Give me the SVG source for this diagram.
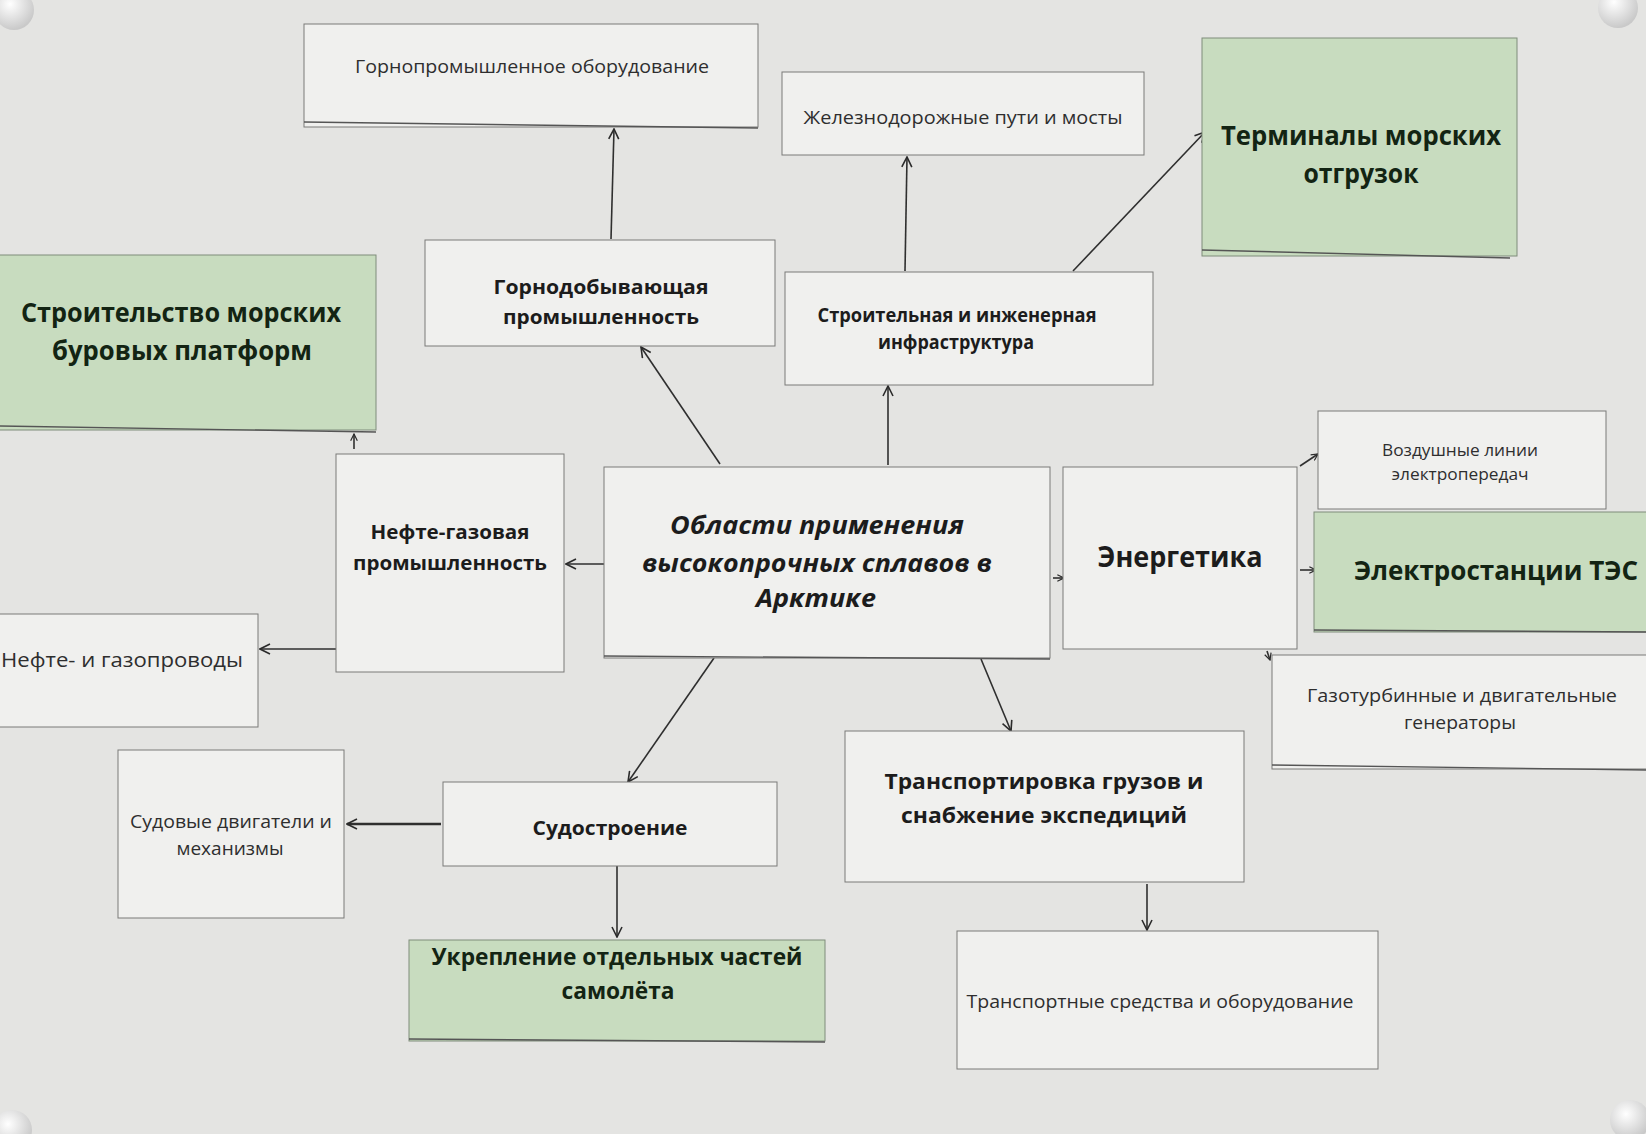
<svg xmlns="http://www.w3.org/2000/svg" width="1646" height="1134" viewBox="0 0 1646 1134">
<defs>
<marker id="arr" viewBox="0 0 12 12" refX="11" refY="6" markerWidth="12" markerHeight="12" markerUnits="userSpaceOnUse" orient="auto">
<path d="M1,1 L11,6 L1,11" fill="none" stroke="#2b2b2b" stroke-width="1.6"/>
</marker>
<marker id="arrS" viewBox="0 0 12 12" refX="11" refY="6" markerWidth="8" markerHeight="8" markerUnits="userSpaceOnUse" orient="auto">
<path d="M1,1 L11,6 L1,11" fill="none" stroke="#2b2b2b" stroke-width="1.8"/>
</marker>
<radialGradient id="pin" cx="40%" cy="35%" r="65%">
<stop offset="0" stop-color="#ffffff"/>
<stop offset="1" stop-color="#c9c9c9"/>
</radialGradient>
</defs>
<style>
.box{fill:#f0f0ee;stroke:#7a7a78;stroke-width:1}
.green{fill:#c8dcbf;stroke:#7f8c7b;stroke-width:1}
.t{font-family:"Open Sans","Noto Sans","Liberation Sans",sans-serif;fill:#2e2e2e;text-anchor:middle}
.b{font-family:"Open Sans","Noto Sans","Liberation Sans",sans-serif;font-weight:bold;fill:#1c1c1c;text-anchor:middle}
.bg{fill:#132413}
.c{fill:none;stroke:#2f2f2f;stroke-width:1.6}
.shadow{fill:none;stroke:#555;stroke-width:1.4}
</style>
<rect x="0" y="0" width="1646" height="1134" fill="#e4e4e2"/>
<g id="pins">
<circle cx="14" cy="10" r="20" fill="url(#pin)"/>
<circle cx="1618" cy="8" r="20" fill="url(#pin)"/>
<circle cx="12" cy="1130" r="20" fill="url(#pin)"/>
<circle cx="1630" cy="1120" r="20" fill="url(#pin)"/>
</g>
<g id="connectors">
<line class="c" x1="611" y1="239" x2="614" y2="129" marker-end="url(#arr)"/>
<line class="c" x1="720" y1="464" x2="641" y2="347" marker-end="url(#arr)"/>
<line class="c" x1="888" y1="465" x2="888" y2="386" marker-end="url(#arr)"/>
<line class="c" x1="905" y1="271" x2="907" y2="157" marker-end="url(#arr)"/>
<line class="c" x1="1073" y1="271" x2="1205" y2="132" marker-end="url(#arr)"/>
<line class="c" x1="604" y1="564" x2="566" y2="564" marker-end="url(#arr)"/>
<line class="c" x1="336" y1="649" x2="260" y2="649" marker-end="url(#arr)"/>
<line class="c" x1="354" y1="449" x2="354" y2="434" marker-end="url(#arrS)"/>
<line class="c" x1="1053" y1="578" x2="1064" y2="578" marker-end="url(#arrS)"/>
<line class="c" x1="1300" y1="466" x2="1318" y2="454" marker-end="url(#arrS)"/>
<line class="c" x1="1300" y1="570" x2="1316" y2="570" marker-end="url(#arrS)"/>
<line class="c" x1="1267" y1="651" x2="1270" y2="660" marker-end="url(#arrS)"/>
<line class="c" x1="714" y1="658" x2="628" y2="782" marker-end="url(#arr)"/>
<line class="c" x1="441" y1="824" x2="347" y2="824" marker-end="url(#arr)" style="stroke-width:2.6"/>
<line class="c" x1="617" y1="866" x2="617" y2="937" marker-end="url(#arr)"/>
<line class="c" x1="981" y1="659" x2="1011" y2="731" marker-end="url(#arr)"/>
<line class="c" x1="1147" y1="884" x2="1147" y2="930" marker-end="url(#arr)"/>
</g>
<g id="n-gornoprom-oborud">
<rect class="box" x="304" y="24" width="454" height="103"/>
<line class="shadow" x1="304" y1="122" x2="758" y2="128"/>
<text class="t" x="532" y="73" font-size="19" textLength="354" lengthAdjust="spacingAndGlyphs">Горнопромышленное оборудование</text>
</g>
<g id="n-zhd">
<rect class="box" x="782" y="72" width="362" height="83"/>
<text class="t" x="963" y="124" font-size="19" textLength="319" lengthAdjust="spacingAndGlyphs">Железнодорожные пути и мосты</text>
</g>
<g id="n-terminaly">
<rect class="green" x="1202" y="38" width="315" height="218"/>
<line class="shadow" x1="1202" y1="250" x2="1510" y2="258"/>
<text class="b bg" x="1361" y="145" font-size="27" textLength="280" lengthAdjust="spacingAndGlyphs">Терминалы морских</text>
<text class="b bg" x="1361" y="183" font-size="27" textLength="115" lengthAdjust="spacingAndGlyphs">отгрузок</text>
</g>
<g id="n-burovye">
<rect class="green" x="-2" y="255" width="378" height="175"/>
<line class="shadow" x1="0" y1="426" x2="376" y2="432"/>
<text class="b bg" x="181" y="322" font-size="26" textLength="320" lengthAdjust="spacingAndGlyphs">Строительство морских</text>
<text class="b bg" x="182" y="360" font-size="26" textLength="260" lengthAdjust="spacingAndGlyphs">буровых платформ</text>
</g>
<g id="n-gornodob">
<rect class="box" x="425" y="240" width="350" height="106"/>
<text class="b" x="601" y="294" font-size="20" textLength="215" lengthAdjust="spacingAndGlyphs">Горнодобывающая</text>
<text class="b" x="601" y="324" font-size="20" textLength="196" lengthAdjust="spacingAndGlyphs">промышленность</text>
</g>
<g id="n-stroit">
<rect class="box" x="785" y="272" width="368" height="113"/>
<text class="b" x="957" y="322" font-size="19" textLength="279" lengthAdjust="spacingAndGlyphs">Строительная и инженерная</text>
<text class="b" x="956" y="349" font-size="19" textLength="156" lengthAdjust="spacingAndGlyphs">инфраструктура</text>
</g>
<g id="n-center">
<rect class="box" x="604" y="467" width="446" height="191"/>
<line class="shadow" x1="604" y1="656" x2="1050" y2="659"/>
<text class="b" x="817" y="534" font-size="25" font-style="italic" textLength="294" lengthAdjust="spacingAndGlyphs">Области применения</text>
<text class="b" x="817" y="572" font-size="25" font-style="italic" textLength="350" lengthAdjust="spacingAndGlyphs">высокопрочных сплавов в</text>
<text class="b" x="816" y="607" font-size="25" font-style="italic" textLength="120" lengthAdjust="spacingAndGlyphs">Арктике</text>
</g>
<g id="n-neftegaz">
<rect class="box" x="336" y="454" width="228" height="218"/>
<text class="b" x="450" y="539" font-size="19" textLength="159" lengthAdjust="spacingAndGlyphs">Нефте-газовая</text>
<text class="b" x="450" y="570" font-size="19" textLength="194" lengthAdjust="spacingAndGlyphs">промышленность</text>
</g>
<g id="n-truboprovody">
<rect class="box" x="-2" y="614" width="260" height="113"/>
<text class="t" x="1" y="667" font-size="20" style="text-anchor:start" textLength="242" lengthAdjust="spacingAndGlyphs">Нефте- и газопроводы</text>
</g>
<g id="n-energetika">
<rect class="box" x="1063" y="467" width="234" height="182"/>
<text class="b" x="1180" y="567" font-size="28" textLength="165" lengthAdjust="spacingAndGlyphs">Энергетика</text>
</g>
<g id="n-lep">
<rect class="box" x="1318" y="411" width="288" height="98"/>
<text class="t" x="1460" y="456" font-size="16" textLength="156" lengthAdjust="spacingAndGlyphs">Воздушные линии</text>
<text class="t" x="1460" y="480" font-size="16" textLength="137" lengthAdjust="spacingAndGlyphs">электропередач</text>
</g>
<g id="n-tes">
<rect class="green" x="1314" y="512" width="334" height="120"/>
<line class="shadow" x1="1314" y1="630" x2="1646" y2="632"/>
<text class="b bg" x="1496" y="580" font-size="26" textLength="284" lengthAdjust="spacingAndGlyphs">Электростанции ТЭС</text>
</g>
<g id="n-gazoturb">
<rect class="box" x="1272" y="655" width="376" height="114"/>
<line class="shadow" x1="1272" y1="765" x2="1646" y2="770"/>
<text class="t" x="1462" y="702" font-size="18" textLength="310" lengthAdjust="spacingAndGlyphs">Газотурбинные и двигательные</text>
<text class="t" x="1460" y="729" font-size="18" textLength="112" lengthAdjust="spacingAndGlyphs">генераторы</text>
</g>
<g id="n-transportirovka">
<rect class="box" x="845" y="731" width="399" height="151"/>
<text class="b" x="1044" y="789" font-size="22" textLength="319" lengthAdjust="spacingAndGlyphs">Транспортировка грузов и</text>
<text class="b" x="1044" y="823" font-size="22" textLength="286" lengthAdjust="spacingAndGlyphs">снабжение экспедиций</text>
</g>
<g id="n-transp-sredstva">
<rect class="box" x="957" y="931" width="421" height="138"/>
<text class="t" x="1160" y="1008" font-size="18" textLength="387" lengthAdjust="spacingAndGlyphs">Транспортные средства и оборудование</text>
</g>
<g id="n-sudostroenie">
<rect class="box" x="443" y="782" width="334" height="84"/>
<text class="b" x="610" y="835" font-size="20" font-weight="600" textLength="155" lengthAdjust="spacingAndGlyphs">Судостроение</text>
</g>
<g id="n-sudovye">
<rect class="box" x="118" y="750" width="226" height="168"/>
<text class="t" x="231" y="828" font-size="18" textLength="202" lengthAdjust="spacingAndGlyphs">Судовые двигатели и</text>
<text class="t" x="230" y="855" font-size="18" textLength="107" lengthAdjust="spacingAndGlyphs">механизмы</text>
</g>
<g id="n-ukreplenie">
<rect class="green" x="409" y="940" width="416" height="101"/>
<line class="shadow" x1="409" y1="1039" x2="825" y2="1042"/>
<text class="b bg" x="617" y="965" font-size="23" textLength="371" lengthAdjust="spacingAndGlyphs">Укрепление отдельных частей</text>
<text class="b bg" x="618" y="999" font-size="23" textLength="113" lengthAdjust="spacingAndGlyphs">самолёта</text>
</g>
</svg>
